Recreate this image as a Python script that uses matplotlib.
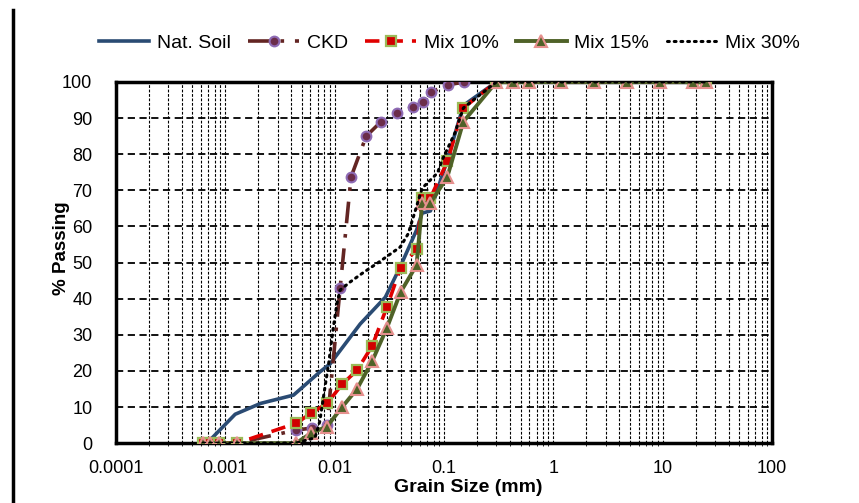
import matplotlib
matplotlib.use("Agg")
import matplotlib.pyplot as plt
from matplotlib.lines import Line2D

plt.rcParams['font.family'] = ['Liberation Sans', 'DejaVu Sans']

# sieve / hydrometer sizes (mm) and % passing
sieve = [0.3, 0.425, 0.6, 1.18, 2.36, 4.75, 9.5, 19, 25]
full = [100, 100, 100, 100, 100, 100, 100, 100, 100]

nat_d = [0.00068, 0.00123, 0.0021, 0.0042, 0.0073, 0.0091, 0.0171, 0.029,
         0.0397, 0.056, 0.063, 0.075, 0.106, 0.15] + sieve
nat_p = [0, 8, 11, 13.3, 19.7, 22, 33, 40.4, 48.8, 59, 63.7, 64.3, 78, 93.5] + full

ckd_d = [0.000625, 0.00072, 0.000875, 0.00128, 0.00443, 0.0062, 0.0085, 0.0112,
         0.0141, 0.0194, 0.0265, 0.0372, 0.052, 0.0645, 0.076, 0.108, 0.153]
ckd_p = [0, 0, 0, 0, 3.6, 4.2, 5, 42.9, 73.7, 85, 89, 91.4, 93, 94.5, 97.2, 99.2, 100]

mix_d = [0.000625, 0.00072, 0.000875, 0.00128, 0.00443, 0.0061, 0.0085, 0.0117,
         0.016, 0.022, 0.030, 0.040, 0.056, 0.063, 0.075, 0.107, 0.15] + sieve
mix10_p = [0, 0, 0, 0, 5.5, 8.3, 11, 16.3, 20.2, 26.9, 37.7, 48.5, 53.7,
           67.9, 67.9, 78, 92.8] + full
mix15_p = [0, 0, 0, 0, 0, 2.8, 4.6, 10, 15, 22.7, 31.9, 41.8, 49.3,
           66.5, 66.5, 73.7, 89] + full

mix30_d = [0.000625, 0.00072, 0.000875, 0.00128, 0.0044, 0.0066, 0.0073, 0.0080,
           0.0088, 0.0097, 0.0105, 0.0112, 0.0138, 0.0178, 0.025, 0.0397, 0.047,
           0.063, 0.087, 0.096, 0.126, 0.15] + sieve
mix30_p = [0, 0, 0, 0, 0, 1.5, 6, 14, 22, 32, 38.8, 42.4, 44.6, 47, 50, 54.3,
           58, 70.6, 74.8, 78.4, 86, 92.8] + full

xticks = [0.0001, 0.001, 0.01, 0.1, 1, 10, 100]
xlabels = ['0.0001', '0.001', '0.01', '0.1', '1', '10', '100']

fig = plt.figure(figsize=(8.59, 5.03), dpi=100)
ax = fig.add_axes([0.135, 0.119, 0.764, 0.718])

ax.plot(nat_d, nat_p, color='#2A4B73', lw=2.6, label='Nat. Soil', zorder=3)
ax.plot(ckd_d, ckd_p, color='#632523', lw=2.6, linestyle=(0, (6, 3, 1, 3)),
        marker='o', ms=7, mfc='#6B2D4A', mec='#8E6BB5', mew=1.5,
        label='CKD', zorder=4)
ax.plot(mix_d, mix10_p, color='#E00000', lw=2.6, linestyle=(0, (4, 2.5)),
        marker='s', ms=7, mfc='#D00000', mec='#9BBB59', mew=1.6,
        label='Mix 10%', zorder=5)
ax.plot(mix_d, mix15_p, color='#4F6228', lw=2.8,
        marker='^', ms=8.5, mfc='#4F6228', mec='#E6908E', mew=1.5,
        label='Mix 15%', zorder=6)
ax.plot(mix30_d, mix30_p, color='black', lw=2.2, linestyle=(0, (0.6, 1.6)),
        dash_capstyle='round', label='Mix 30%', zorder=7)

ax.set_xscale('log')
ax.set_xlim(0.0001, 100)
ax.set_ylim(0, 100)
ax.set_xticks(xticks)
ax.set_xticklabels(xlabels)
ax.set_yticks(range(0, 101, 10))
ax.tick_params(axis='both', length=0, labelsize=13)
ax.tick_params(axis='y', pad=17)
ax.tick_params(axis='x', pad=12)

ax.grid(True, which='major', axis='y', color='black', linestyle=(0, (4, 2.5)), lw=1.3)
ax.grid(True, which='both', axis='x', color='black', linestyle=(0, (2.5, 1.5)), lw=0.8)
ax.set_axisbelow(True)

for s in ax.spines.values():
    s.set_linewidth(2.5)
    s.set_color('black')

ax.set_xlabel('Grain Size (mm)', fontsize=14, fontweight='bold')
ax.xaxis.set_label_coords(0.537, -0.1)
ax.set_ylabel('% Passing', fontsize=13.5, fontweight='bold')
ax.yaxis.set_label_coords(-0.07, 0.54)

ax.legend(loc='center', bbox_to_anchor=(0.523, 0.915), bbox_transform=fig.transFigure,
          ncol=5, frameon=False, fontsize=14, handlelength=2.6,
          handletextpad=0.4, columnspacing=0.9)

fig.add_artist(Line2D([0.0155, 0.0155], [0.0, 0.98], transform=fig.transFigure,
                      color='black', lw=2.5))

fig.savefig('out.png', dpi=100)
